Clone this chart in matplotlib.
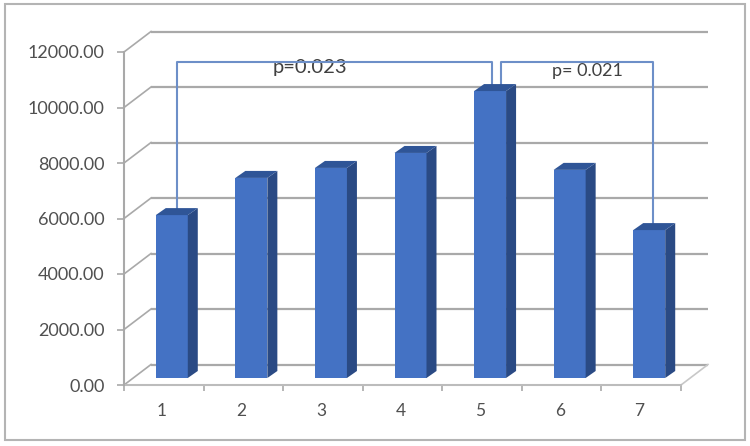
import matplotlib
matplotlib.use('Agg')
import matplotlib.pyplot as plt
from matplotlib.patches import Polygon, Rectangle

categories = [1, 2, 3, 4, 5, 6, 7]
values = [5870, 7210, 7570, 8110, 10340, 7500, 5330]
y_ticks = [0, 2000, 4000, 6000, 8000, 10000, 12000]
y_labels = ['0.00', '2000.00', '4000.00', '6000.00', '8000.00', '10000.00', '12000.00']

W, H = 750, 446
plt.rcParams['font.family'] = ['Lato', 'DejaVu Sans']

fig = plt.figure(figsize=(W / 100, H / 100), dpi=100)
# plot box in pixels: x 124-681, y 385 (value 0) up to 52 (value 12000)
ax = fig.add_axes([124 / W, 1 - 385 / H, (681 - 124) / W, (385 - 52) / H])
ax.set_xlim(0.5, 7.5)
ax.set_ylim(0, 12000)
ax.patch.set_visible(False)
for s in ax.spines.values():
    s.set_visible(False)

# pixel sizes to data units
px_x = 7 / (681 - 124)
px_y = 12000 / (385 - 52)

grid_c = '#a9a9a9'
depth_x, depth_y = 27 * px_x, 20.5 * px_y

# back wall lines and the slanted ones going to the axis
for t in y_ticks:
    ax.plot([0.5 + depth_x, 7.5 + depth_x], [t + depth_y, t + depth_y], color=grid_c, lw=1.6, zorder=1, clip_on=False, solid_capstyle='butt')
    ax.plot([0.5, 0.5 + depth_x], [t, t + depth_y], color=grid_c, lw=1.2, zorder=1, clip_on=False)

# floor and axis
ax.plot([7.5, 7.5 + depth_x], [0, depth_y], color='#c8c8c8', lw=1.2, zorder=1, clip_on=False)
ax.plot([0.5, 7.5], [0, 0], color='#bcbcbc', lw=1.5, zorder=2, clip_on=False)
ax.plot([0.5, 0.5], [0, 12000], color=grid_c, lw=1.5, zorder=2, clip_on=False)

ax.set_xticks([i + 0.5 for i in range(0, 8)])
ax.set_xticklabels([])
ax.set_yticks(y_ticks)
ax.set_yticklabels(y_labels, fontsize=13, color='#505050')
ax.tick_params(axis='y', length=5, width=1.2, color=grid_c, pad=9)
ax.tick_params(axis='x', length=4, width=1.2, color=grid_c)

for c in categories:
    ax.text(c - 2 * px_x, -31.5 * px_y, str(c), ha='center', va='baseline', fontsize=12.5, color='#505050')

# bars, front face sits a bit in from the axis
bar_w = 32 * px_x
shift = 8 * px_x
base = 7 * px_y
side_x, side_y = 10 * px_x, 7 * px_y
xs = [c + shift for c in categories]
ax.bar(xs, values, width=bar_w, bottom=base, color='#4472c4', zorder=5, clip_on=False)
for x, v in zip(xs, values):
    r = x + bar_w / 2
    l = x - bar_w / 2
    top = v + base
    ax.add_patch(Polygon([(r, base), (r + side_x, base + side_y), (r + side_x, top + side_y), (r, top)],
                         closed=True, fc='#2a4a84', ec='none', zorder=5, clip_on=False))
    ax.add_patch(Polygon([(l, top), (l + side_x, top + side_y), (r + side_x, top + side_y), (r, top)],
                         closed=True, fc='#2f5597', ec='none', zorder=5, clip_on=False))

# p value brackets
br_c = '#6d8fc8'
br_y = 11640
leg_gap = base + side_y
x1 = xs[0] + 5 * px_x
x5a = xs[4] + 2 * px_x
x5b = xs[4] + 11 * px_x
x7 = xs[6] + 4 * px_x
ax.plot([x1, x1, x5a, x5a], [values[0] + leg_gap, br_y, br_y, values[4] + leg_gap], color=br_c, lw=1.5, zorder=4, clip_on=False)
ax.plot([x5b, x5b, x7, x7], [values[4] + leg_gap, br_y, br_y, values[6] + leg_gap], color=br_c, lw=1.5, zorder=4, clip_on=False)
ax.text((x1 + x5a) / 2 - 24 * px_x, br_y + 3 * px_y, 'p=0.023', ha='center', va='top', fontsize=14.5, color='#404040')
ax.text((x5b + x7) / 2 + 10 * px_x, br_y - 1 * px_y, 'p= 0.021', ha='center', va='top', fontsize=13, color='#404040')

# outer frame of the chart
fig.add_artist(Rectangle((4.5 / W, 1 - 440 / H), 740 / W, 436 / H, transform=fig.transFigure,
                         fill=False, ec='#b4b4b4', lw=1.5))

plt.savefig('out.png', dpi=100)
